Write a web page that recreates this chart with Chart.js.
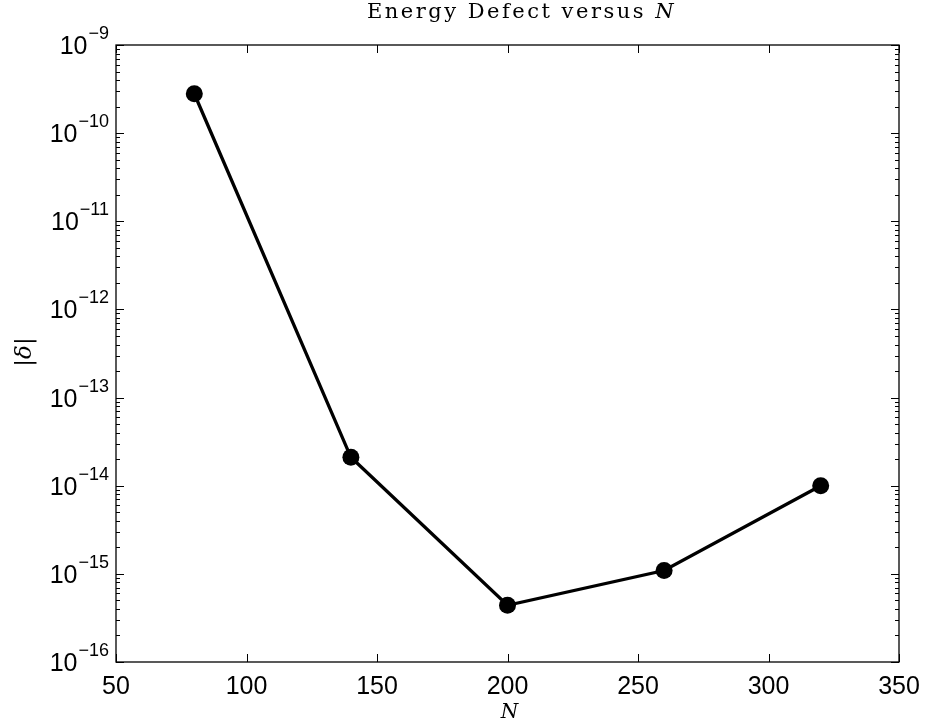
<!DOCTYPE html>
<html>
<head>
<meta charset="utf-8">
<script src="https://cdn.jsdelivr.net/npm/chart.js"></script>
<style>
  html, body { margin: 0; padding: 0; background: #fff; }
  #wrap { width: 925px; height: 727px; }
</style>
</head>
<body>
<div id="wrap"><canvas id="defectChart" width="925" height="727"></canvas></div>
<script>
// N values and the matching |delta|
const nValues = [80, 140, 200, 260, 320];
const defectValues = [2.8e-10, 2.1e-14, 4.4e-16, 1.09e-15, 1.0e-14];

// axis ticks
const xTicks = [50, 100, 150, 200, 250, 300, 350];
const yExponents = [-16, -15, -14, -13, -12, -11, -10, -9];

const titleText = "Energy Defect versus ";
const titleVar = "N";
const xTitle = "N";
const yTitle = "|\u03b4|";

const tickFont = "25px 'Liberation Sans', Arial, sans-serif";
const supFont = "18px 'Liberation Sans', Arial, sans-serif";
const serif = "'DejaVu Serif', 'Liberation Serif', serif";

// box, inward ticks, labels and titles, drawn matlab style
const axesPlugin = {
  id: "axesPlugin",
  afterDraw(chart) {
    const ctx = chart.ctx;
    const area = chart.chartArea;
    const xs = chart.scales.x;
    const ys = chart.scales.y;
    ctx.save();

    // frame
    ctx.strokeStyle = "#000";
    ctx.lineWidth = 1.3;
    ctx.strokeRect(area.left, area.top, area.right - area.left, area.bottom - area.top);

    // x ticks, bottom and top
    ctx.lineWidth = 1;
    ctx.beginPath();
    xTicks.forEach(v => {
      const px = Math.round(xs.getPixelForValue(v)) + 0.5;
      ctx.moveTo(px, area.bottom); ctx.lineTo(px, area.bottom - 8);
      ctx.moveTo(px, area.top); ctx.lineTo(px, area.top + 8);
    });
    // y major and minor ticks, left and right
    yExponents.forEach(e => {
      const py = Math.round(ys.getPixelForValue(Math.pow(10, e))) + 0.5;
      ctx.moveTo(area.left, py); ctx.lineTo(area.left + 8, py);
      ctx.moveTo(area.right, py); ctx.lineTo(area.right - 8, py);
      if (e < -9) {
        for (let m = 2; m <= 9; m++) {
          const pm = Math.round(ys.getPixelForValue(m * Math.pow(10, e))) + 0.5;
          ctx.moveTo(area.left, pm); ctx.lineTo(area.left + 4, pm);
          ctx.moveTo(area.right, pm); ctx.lineTo(area.right - 4, pm);
        }
      }
    });
    ctx.stroke();

    // x tick labels
    ctx.fillStyle = "#000";
    ctx.font = tickFont;
    ctx.textAlign = "center";
    ctx.textBaseline = "alphabetic";
    xTicks.forEach(v => {
      ctx.fillText(String(v), xs.getPixelForValue(v), area.bottom + 32);
    });

    // y tick labels as 10 with superscript exponent
    yExponents.forEach(e => {
      const py = ys.getPixelForValue(Math.pow(10, e));
      const sup = "\u2212" + String(-e);
      ctx.font = supFont;
      const supW = ctx.measureText(sup).width;
      ctx.textAlign = "left";
      const supX = area.left - 7 - supW;
      ctx.fillText(sup, supX, py - 6);
      ctx.font = tickFont;
      ctx.textAlign = "right";
      ctx.fillText("10", supX - 1, py + 9);
    });

    // title, spaced out
    const cx = (area.left + area.right) / 2;
    const titleCx = cx + 14;
    ctx.letterSpacing = "2.5px";
    ctx.font = "21px " + serif;
    const w1 = ctx.measureText(titleText).width;
    ctx.font = "italic 21px " + serif;
    const w2 = ctx.measureText(titleVar).width;
    const tx = titleCx - (w1 + w2) / 2;
    ctx.textAlign = "left";
    ctx.font = "21px " + serif;
    ctx.fillText(titleText, tx, 18);
    ctx.font = "italic 21px " + serif;
    ctx.fillText(titleVar, tx + w1, 18);
    ctx.letterSpacing = "0px";

    // axis titles
    ctx.font = "italic 20px " + serif;
    ctx.textAlign = "center";
    ctx.fillText(xTitle, cx + 2, area.bottom + 56);
    ctx.save();
    ctx.font = "italic 23px " + serif;
    ctx.textBaseline = "middle";
    ctx.translate(25, 352);
    ctx.rotate(-Math.PI / 2);
    ctx.fillText(yTitle, 0, 0);
    ctx.restore();

    ctx.restore();
  }
};

new Chart(document.getElementById("defectChart").getContext("2d"), {
  type: "line",
  data: {
    datasets: [{
      data: nValues.map((n, i) => ({ x: n, y: defectValues[i] })),
      borderColor: "#000",
      backgroundColor: "#000",
      borderWidth: 3.3,
      pointRadius: 8.5,
      pointHoverRadius: 8.5,
      pointBackgroundColor: "#000",
      pointBorderWidth: 0,
      tension: 0,
      fill: false
    }]
  },
  options: {
    responsive: false,
    animation: false,
    events: [],
    layout: { padding: { left: 116, right: 26, top: 45, bottom: 65 } },
    plugins: {
      legend: { display: false },
      tooltip: { enabled: false },
      title: { display: false }
    },
    scales: {
      x: {
        type: "linear",
        min: 50,
        max: 350,
        ticks: { display: false },
        grid: { display: false, drawTicks: false },
        border: { display: false }
      },
      y: {
        type: "logarithmic",
        min: 1e-16,
        max: 1e-9,
        ticks: { display: false },
        grid: { display: false, drawTicks: false },
        border: { display: false }
      }
    }
  },
  plugins: [axesPlugin]
});
</script>
</body>
</html>
